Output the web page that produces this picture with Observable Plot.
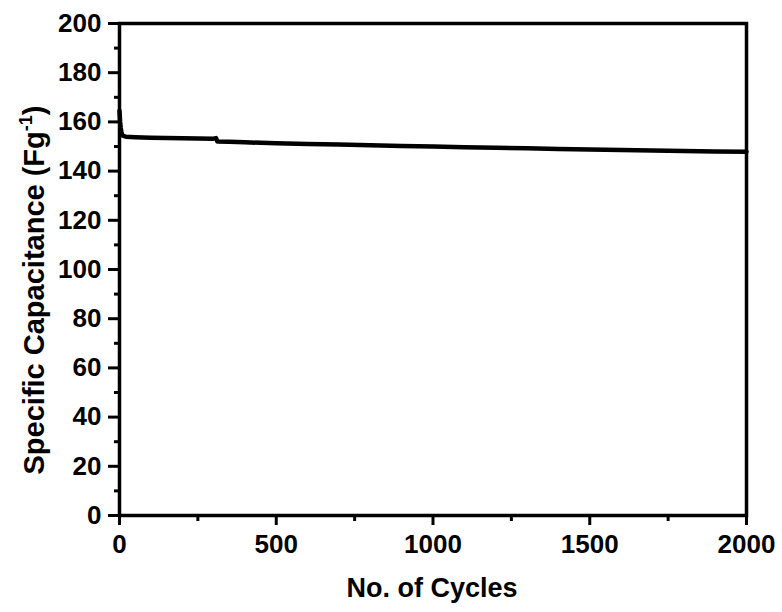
<!DOCTYPE html>
<html><head><meta charset="utf-8">
<script src="https://cdn.jsdelivr.net/npm/d3@7"></script>
<script src="https://cdn.jsdelivr.net/npm/@observablehq/plot@0.6"></script>
<style>body{margin:0;background:#fff;} svg{font-family:"Liberation Sans",Arial,sans-serif;}</style>
</head><body><div id="chart"></div>
<script>
const cycles = [0, 1, 2, 4, 6, 8, 10, 15, 20, 50, 100, 150, 200, 250, 300, 308, 312, 350, 400, 500, 600, 700, 800, 900, 1000, 1100, 1200, 1300, 1400, 1500, 1600, 1700, 1800, 1900, 2000];
const capacitance = [164.5, 162, 160, 157.5, 156, 155, 154.4, 154.2, 154.0, 153.8, 153.6, 153.5, 153.4, 153.3, 153.2, 153.4, 152.0, 151.9, 151.7, 151.3, 151.0, 150.8, 150.5, 150.2, 150.0, 149.7, 149.5, 149.3, 149.0, 148.8, 148.6, 148.4, 148.2, 148.0, 147.9];
const xMajor = [0, 500, 1000, 1500, 2000];
const xMinor = [250, 750, 1250, 1750];
const yMajor = [0, 20, 40, 60, 80, 100, 120, 140, 160, 180, 200];
const yMinor = [10, 30, 50, 70, 90, 110, 130, 150, 170, 190];
const xTitle = "No. of Cycles";
const yTitle = "Specific Capacitance (Fg";
const yTitleSup = "-1";

const data = cycles.map((c, i) => ({c, v: capacitance[i]}));
const noText = () => "";

const plot = Plot.plot({
  width: 782, height: 612,
  marginLeft: 119, marginRight: 36, marginTop: 23, marginBottom: 97,
  style: {fontFamily: "'Liberation Sans', Arial, sans-serif", fontWeight: "bold", fontSize: "26px", color: "#000", background: "#fff"},
  x: {domain: [0, 2000]},
  y: {domain: [0, 200]},
  marks: [
    Plot.line(data, {x: "c", y: "v", stroke: "#000", strokeWidth: 4.5, strokeLinejoin: "round"}),
    Plot.axisX({ticks: xMinor, tickSize: 6, strokeWidth: 3, tickFormat: noText, label: null}),
    Plot.axisX({ticks: xMajor, tickSize: 10, strokeWidth: 3, tickPadding: 9, fontSize: 26, fontWeight: "bold", tickFormat: d => String(d), label: null}),
    Plot.axisY({ticks: yMinor, tickSize: 5, strokeWidth: 3, tickFormat: noText, label: null}),
    Plot.axisY({ticks: yMajor, tickSize: 11, strokeWidth: 3, tickPadding: 7, fontSize: 26, fontWeight: "bold", tickFormat: d => String(d), label: null}),
    Plot.frame({stroke: "#000", strokeWidth: 3.5})
  ]
});

const svg = d3.select(plot);
svg.append("text")
  .attr("x", 432).attr("y", 597)
  .attr("text-anchor", "middle")
  .attr("font-size", 27).attr("font-weight", "bold").attr("fill", "#000")
  .text(xTitle);
const yt = svg.append("text")
  .attr("transform", "translate(44,290) rotate(-90)")
  .attr("text-anchor", "middle")
  .attr("font-size", 29).attr("font-weight", "bold").attr("fill", "#000");
yt.append("tspan").text(yTitle);
yt.append("tspan").attr("font-size", 18).attr("dy", -12).text(yTitleSup);
yt.append("tspan").attr("dy", 12).text(")");

document.getElementById("chart").appendChild(plot);
</script>
</body></html>
